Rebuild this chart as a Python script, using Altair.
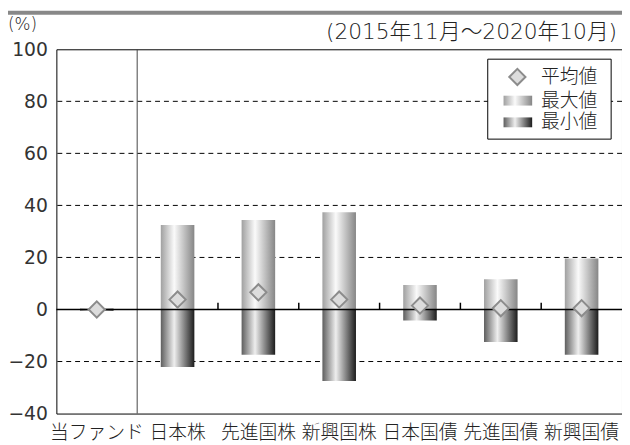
import altair as alt
import pandas as pd

categories = ["当ファンド", "日本株", "先進国株", "新興国株", "日本国債", "先進国債", "新興国債"]
max_values = [0.5, 32.5, 34.4, 37.4, 9.4, 11.6, 19.6]
min_values = [-0.5, -22.1, -17.4, -27.5, -4.2, -12.5, -17.4]
avg_values = [0.0, 3.8, 6.6, 3.8, 1.5, 0.5, 0.5]
y_ticks = [-40, -20, 0, 20, 40, 60, 80, 100]
grid_values = [-20, 20, 40, 60, 80]
legend_labels = ["平均値", "最大値", "最小値"]
period_label = "(2015年11月～2020年10月)"
unit_label = "(%)"

CJK = "Noto Sans CJK JP"
MIX = "DejaVu Sans, Noto Sans CJK JP"
TXT = "#222222"
W, H = 573, 369

df = pd.DataFrame({"cat": categories, "max": max_values, "min": min_values, "avg": avg_values})

xscale = alt.Scale(domain=categories, paddingInner=0, paddingOuter=0)
yscale = alt.Scale(domain=[y_ticks[0], y_ticks[-1]], nice=False, zero=False)

grad_max = alt.Gradient(
    gradient="linear", x1=0, x2=1, y1=0, y2=0,
    stops=[alt.GradientStop(color="#a0a0a0", offset=0),
           alt.GradientStop(color="#fafafa", offset=0.4),
           alt.GradientStop(color="#868686", offset=1)])
grad_min = alt.Gradient(
    gradient="linear", x1=0, x2=1, y1=0, y2=0,
    stops=[alt.GradientStop(color="#5e5e5e", offset=0),
           alt.GradientStop(color="#eeeeee", offset=0.4),
           alt.GradientStop(color="#1c1c1c", offset=1)])

xaxis = alt.Axis(title=None, labelAngle=0, ticks=False, domain=False, labelFontSize=19,
                 labelPadding=10, labelColor=TXT, labelFont=CJK, labelFontWeight=300)
yaxis = alt.Axis(title=None, values=y_ticks, ticks=False, domain=False, grid=False,
                 labelFontSize=19, labelPadding=9, labelColor="#333333", labelFont="DejaVu Sans",
                 labelFontWeight="normal")


def X(bp=0.5):
    return alt.X("cat:N", scale=xscale, sort=categories, axis=xaxis, bandPosition=bp)


grid = alt.Chart(pd.DataFrame({"v": grid_values})).mark_rule(
    color="black", strokeDash=[5, 4], strokeWidth=1).encode(
    y=alt.Y("v:Q", scale=yscale, axis=yaxis))

separator = alt.Chart(pd.DataFrame({"cat": [categories[1]]})).mark_rule(
    color="#444444", strokeWidth=1).encode(
    x=X(0), y=alt.datum(y_ticks[0]), y2=alt.datum(y_ticks[-1]))

bars_max = alt.Chart(df).mark_bar(width=34, color=grad_max).encode(
    x=X(), y=alt.Y("max:Q", scale=yscale, axis=yaxis), y2=alt.datum(0))

bars_min = alt.Chart(df).mark_bar(width=34, color=grad_min).encode(
    x=X(), y=alt.Y("min:Q", scale=yscale, axis=yaxis), y2=alt.datum(0))

zero_line = alt.Chart(pd.DataFrame({"v": [0]})).mark_rule(
    color="black", strokeWidth=1.5).encode(y=alt.Y("v:Q", scale=yscale, axis=yaxis))

zero_ticks = alt.Chart(pd.DataFrame({"cat": categories[2:]})).mark_rule(
    color="black", strokeWidth=1.5).encode(
    x=X(0), y=alt.datum(0), y2=alt.datum(2.6))

diamonds = alt.Chart(df).mark_point(
    shape="diamond", filled=True, color="#dcdcdc", stroke="#8c8c8c",
    strokeWidth=2, size=270, opacity=1).encode(
    x=X(), y=alt.Y("avg:Q", scale=yscale, axis=yaxis))

one = pd.DataFrame({"k": [0]})
legend_box = alt.Chart(one).mark_rect(fill="white", stroke="black", strokeWidth=1).encode(
    x=alt.value(437), x2=alt.value(562), y=alt.value(10), y2=alt.value(91))
legend_diamond = alt.Chart(one).mark_point(
    shape="diamond", filled=True, color="#dcdcdc", stroke="#8c8c8c",
    strokeWidth=2, size=270, opacity=1).encode(x=alt.value(467), y=alt.value(28))
legend_max = alt.Chart(one).mark_rect(color=grad_max).encode(
    x=alt.value(453), x2=alt.value(482), y=alt.value(47), y2=alt.value(57))
legend_min = alt.Chart(one).mark_rect(color=grad_min).encode(
    x=alt.value(453), x2=alt.value(482), y=alt.value(69), y2=alt.value(79))
legend_texts = [
    alt.Chart(one).mark_text(align="left", baseline="middle", font=CJK, fontSize=19,
                             fontWeight=300, color=TXT, text=lab).encode(
        x=alt.value(491), y=alt.value(yy))
    for lab, yy in zip(legend_labels, [28, 52, 74])
]

top_band = alt.Chart(one).mark_rect(color="#888888").encode(
    x=alt.value(-49), x2=alt.value(W + 10), y=alt.value(-39), y2=alt.value(-35))
unit_text = alt.Chart(one).mark_text(
    align="left", baseline="middle", font=MIX, fontSize=17, fontWeight=300,
    color=TXT, text=unit_label).encode(x=alt.value(-49), y=alt.value(-25))
period_text = alt.Chart(one).mark_text(
    align="right", baseline="middle", font=MIX, fontSize=22, fontWeight=300,
    color=TXT, text=period_label).encode(x=alt.value(568), y=alt.value(-17))

chart = alt.layer(
    grid, separator, bars_max, bars_min, zero_line, zero_ticks, diamonds,
    legend_box, legend_diamond, legend_max, legend_min, *legend_texts,
    top_band, unit_text, period_text
).properties(
    width=W, height=H,
    padding={"left": 49, "top": 39, "right": 0, "bottom": 28},
    autosize=alt.AutoSizeParams(type="none"),
).configure_view(stroke="black", strokeWidth=1)

chart.save("out.html", embed_options={"renderer": "svg", "actions": False})
